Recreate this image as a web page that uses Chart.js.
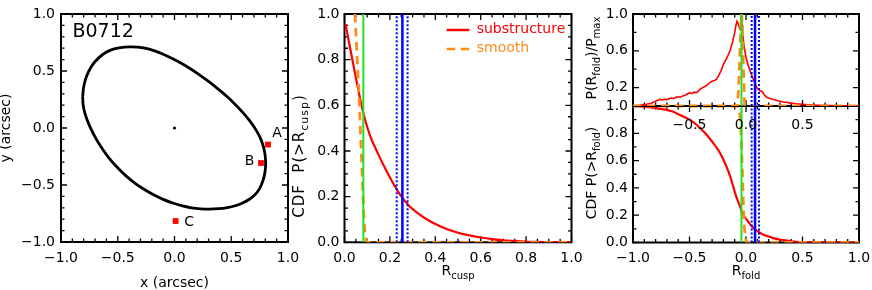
<!DOCTYPE html>
<html><head><meta charset="utf-8">
<script src="https://cdn.jsdelivr.net/npm/chart.js@4/dist/chart.umd.min.js"></script>
<style>
html,body{margin:0;padding:0;background:#fff;}
body{width:872px;height:290px;position:relative;overflow:hidden;}
canvas{position:absolute;top:0;}
</style></head><body>
<canvas id="c1" width="300" height="290" style="left:0px;width:300px;height:290px"></canvas>
<canvas id="c2" width="300" height="290" style="left:290px;width:300px;height:290px"></canvas>
<canvas id="c4" width="292" height="290" style="left:580px;width:292px;height:290px"></canvas>
<canvas id="c3" width="292" height="150" style="left:580px;width:292px;height:150px"></canvas>
<script>
// ---------------- DATA ----------------
// Panel 1: critical curve and image positions (arcsec)
const curveX = [-0.809,-0.802,-0.785,-0.757,-0.718,-0.668,-0.610,-0.545,-0.475,-0.400,-0.325,-0.250,-0.175,-0.100,-0.020,0.060,0.140,0.220,0.300,0.380,0.460,0.535,0.605,0.665,0.715,0.755,0.782,0.798,0.803,0.797,0.780,0.752,0.712,0.660,0.600,0.535,0.465,0.390,0.310,0.230,0.150,0.070,-0.010,-0.095,-0.180,-0.265,-0.350,-0.430,-0.505,-0.575,-0.635,-0.688,-0.732,-0.767,-0.792,-0.806,-0.809];
const curveY = [0.275,0.350,0.425,0.495,0.560,0.615,0.660,0.690,0.706,0.712,0.710,0.698,0.676,0.647,0.610,0.568,0.520,0.466,0.408,0.345,0.278,0.207,0.133,0.060,-0.012,-0.085,-0.160,-0.236,-0.312,-0.388,-0.460,-0.527,-0.582,-0.625,-0.658,-0.682,-0.698,-0.708,-0.712,-0.709,-0.700,-0.683,-0.660,-0.628,-0.588,-0.540,-0.483,-0.418,-0.345,-0.266,-0.184,-0.100,-0.016,0.064,0.140,0.210,0.275];
const lensX = [0.0];
const lensY = [0.0];
const imageNames = ['A','B','C'];
const imageX = [0.824, 0.762, 0.010];
const imageY = [-0.145, -0.307, -0.816];
const lensName = 'B0712';
const panel1Ticks = [-1.0,-0.5,0.0,0.5,1.0];

// Panel 2: CDF of R_cusp
const cuspX = [0.005,0.02,0.04,0.06,0.08,0.10,0.12,0.15,0.18,0.21,0.244,0.28,0.32,0.36,0.40,0.45,0.50,0.55,0.60,0.65,0.70,0.75,0.80,0.85,0.90,0.95,1.00];
const cuspSub = [0.955,0.875,0.772,0.672,0.578,0.505,0.448,0.383,0.322,0.266,0.21,0.165,0.130,0.102,0.08,0.058,0.042,0.030,0.021,0.014,0.009,0.006,0.003,0.0015,0.0008,0.0003,0.0];
const cuspSmoothX = [0.046,0.055,0.065,0.073,0.080,0.086,0.092,0.10,1.0];
const cuspSmooth = [1.0,0.82,0.62,0.42,0.24,0.10,0.02,0.0,0.0];
const cuspObserved = 0.083;      // green
const cuspMeasured = 0.255;      // blue solid
const cuspMeasuredErr = [0.23, 0.278]; // blue dotted
const cuspTicks = [0.0,0.2,0.4,0.6,0.8,1.0];

// Panel 3 top: normalized PDF of R_fold
const foldPdfX = [-1.00,-0.98,-0.96,-0.94,-0.92,-0.90,-0.88,-0.86,-0.84,-0.82,-0.80,-0.78,-0.76,-0.74,-0.72,-0.70,-0.68,-0.66,-0.64,-0.62,-0.60,-0.58,-0.56,-0.54,-0.52,-0.50,-0.48,-0.46,-0.44,-0.42,-0.40,-0.38,-0.36,-0.34,-0.32,-0.30,-0.28,-0.26,-0.24,-0.22,-0.20,-0.18,-0.16,-0.14,-0.12,-0.10,-0.09,-0.08,-0.07,-0.06,-0.05,-0.045,-0.04,-0.035,-0.03,-0.02,-0.01,0.00,0.02,0.04,0.06,0.08,0.10,0.12,0.14,0.16,0.18,0.20,0.22,0.24,0.26,0.28,0.30,0.32,0.34,0.36,0.38,0.40,0.42,0.44,0.46,0.48,0.50,0.55,0.60,0.65,0.70,0.75,0.80,0.85,0.90,0.95,1.00];
const foldPdf = [0.003,0.004,0.006,0.008,0.012,0.010,0.018,0.024,0.030,0.040,0.052,0.062,0.072,0.066,0.074,0.070,0.080,0.086,0.082,0.094,0.100,0.096,0.110,0.118,0.130,0.142,0.136,0.150,0.146,0.165,0.188,0.202,0.215,0.232,0.255,0.268,0.276,0.292,0.335,0.385,0.455,0.495,0.548,0.605,0.690,0.800,0.870,0.920,0.895,0.860,0.830,0.940,0.995,0.880,0.780,0.680,0.600,0.530,0.440,0.370,0.305,0.245,0.190,0.168,0.160,0.125,0.098,0.086,0.080,0.070,0.066,0.058,0.052,0.046,0.042,0.040,0.034,0.030,0.030,0.024,0.022,0.020,0.018,0.014,0.010,0.008,0.006,0.005,0.003,0.003,0.002,0.001,0.001];
const foldSmoothPdfX = [-1.0,-0.075,-0.065,-0.055,-0.045,-0.038,-0.03,-0.022,-0.012,1.0];
const foldSmoothPdf = [0.0,0.0,0.2,0.55,0.9,1.0,0.75,0.4,0.0,0.0];

// Panel 3 bottom: CDF of R_fold
const foldX = [-1.0,-0.9,-0.8,-0.73,-0.65,-0.584,-0.5,-0.436,-0.36,-0.29,-0.24,-0.2,-0.17,-0.14,-0.12,-0.097,-0.075,-0.053,-0.033,-0.015,0.006,0.035,0.065,0.095,0.124,0.16,0.21,0.25,0.30,0.35,0.40,0.45,0.50,0.60,0.70,1.0];
const foldSub = [1.0,0.995,0.985,0.976,0.96,0.934,0.90,0.861,0.80,0.728,0.67,0.606,0.55,0.484,0.43,0.363,0.31,0.265,0.217,0.19,0.168,0.135,0.107,0.087,0.071,0.055,0.042,0.030,0.022,0.015,0.009,0.005,0.003,0.001,0.0,0.0];
const foldSmoothX = [-1.0,-0.07,-0.058,-0.048,-0.04,-0.032,-0.024,-0.016,-0.006,0.005,1.0];
const foldSmooth = [1.0,1.0,0.97,0.88,0.72,0.52,0.30,0.13,0.04,0.0,0.0];
const foldObserved = -0.04;
const foldMeasured = 0.08;
const foldMeasuredErr = [0.05, 0.115];
const foldXTicks = [-1.0,-0.5,0.0,0.5,1.0];
const foldTopXTicks = [-0.5,0.0,0.5];
const foldPdfTicks = [0.2,0.6,1.0];
const foldCdfTicks = [0.0,0.2,0.4,0.6,0.8,1.0];

// ---------------- STYLE ----------------
const FONT = "'DejaVu Sans', sans-serif";
const RED = '#ff0000', ORANGE = '#ff8c1a', GREEN = '#22e022', BLUE = '#0000ff';

function pts(xs, ys){ return xs.map((x,i)=>({x:x, y:ys[i]})); }
function vline(x, lo, hi){ return [{x:x,y:lo},{x:x,y:hi}]; }
function range(a,b,s){ const r=[]; const n=Math.round((b-a)/s); for(let i=0;i<=n;i++) r.push(Math.round((a+i*s)*1000)/1000); return r; }
function fmt(v){ const s=Math.abs(v).toFixed(1); return v<-1e-9 ? '\u2212'+s : s; }

function axis(kind, size, ticks, pad, min, max){
  return {
    type:'linear', min:min, max:max,
    grid:{display:false, drawTicks:false}, border:{display:false},
    ticks:{font:{family:FONT,size:14}, color:'#000', padding:pad, autoSkip:false, maxRotation:0, minRotation:0,
           callback:(v)=>fmt(v), display: ticks.length>0},
    afterBuildTicks:(s)=>{ s.ticks = ticks.map(v=>({value:v})); },
    afterFit:(s)=>{ if(kind==='x') s.height=size; else s.width=size;
                    s.paddingLeft=0; s.paddingRight=0; s.paddingTop=0; s.paddingBottom=0; }
  };
}

function drawRich(ctx, t){
  const size=t.size||14, sub=t.sub||10, drop=t.drop||4;
  ctx.save();
  ctx.translate(t.x, t.y);
  if(t.rot) ctx.rotate(-Math.PI/2);
  ctx.fillStyle=t.color||'#000';
  ctx.textBaseline='alphabetic'; ctx.textAlign='left';
  if(t.spacing) ctx.letterSpacing=t.spacing+'px';
  const widths=t.parts.map(p=>{ ctx.font=(p[1]?sub:size)+'px '+FONT; return ctx.measureText(p[0]).width; });
  const total=widths.reduce((a,b)=>a+b,0);
  let cx = t.align==='left' ? 0 : -total/2;
  t.parts.forEach((p,i)=>{ ctx.font=(p[1]?sub:size)+'px '+FONT; ctx.fillText(p[0], cx, p[1]?drop:0); cx+=widths[i]; });
  ctx.restore();
}

function drawTicks(chart, cfg){
  const ctx=chart.ctx, a=chart.chartArea, xs=chart.scales.x, ys=chart.scales.y;
  ctx.save();
  ctx.setLineDash([]);
  ctx.strokeStyle='#000000'; ctx.lineWidth=1.3;
  const L=a.left, R=a.right, T=a.top, B=a.bottom;
  ctx.beginPath();
  const tx=(vals,len)=>{ for(const v of vals){ const p=xs.getPixelForValue(v);
    ctx.moveTo(p,B); ctx.lineTo(p,B-len); ctx.moveTo(p,T); ctx.lineTo(p,T+len); } };
  const ty=(vals,len)=>{ for(const v of vals){ const p=ys.getPixelForValue(v);
    ctx.moveTo(L,p); ctx.lineTo(L+len,p); ctx.moveTo(R,p); ctx.lineTo(R-len,p); } };
  tx(cfg.xMinor,3.5); ty(cfg.yMinor,3.5); tx(cfg.xMajor,6); ty(cfg.yMajor,6);
  ctx.stroke();
  ctx.lineWidth=2;
  ctx.strokeRect(L, T, R-L, B-T);
  ctx.restore();
}

function framePlugin(cfg){
  return {
    id:'frame',
    beforeDatasetsDraw(chart){ drawTicks(chart,cfg); },
    afterDraw(chart){
      const ctx=chart.ctx;
      (cfg.texts||[]).forEach(t=>drawRich(ctx,t));
      if(cfg.legend){
        cfg.legend.forEach(l=>{
          ctx.save();
          ctx.strokeStyle=l.color; ctx.lineWidth=2.5; ctx.setLineDash(l.dash);
          ctx.beginPath(); ctx.moveTo(l.x0,l.ly); ctx.lineTo(l.x1,l.ly); ctx.stroke();
          ctx.restore();
          drawRich(ctx,{parts:[[l.label,0]], x:l.tx, y:l.ty, align:'left', color:l.color});
        });
      }
      if(cfg.pointLabels){
        const xs=chart.scales.x, ys=chart.scales.y;
        ctx.save(); ctx.fillStyle='#000'; ctx.font='14px '+FONT; ctx.textAlign='center'; ctx.textBaseline='middle';
        cfg.pointLabels.names.forEach((n,i)=>{
          const o=cfg.pointLabels.offsets[i];
          ctx.fillText(n, xs.getPixelForValue(cfg.pointLabels.x[i])+o[0], ys.getPixelForValue(cfg.pointLabels.y[i])+o[1]);
        });
        ctx.restore();
      }
    }
  };
}

function opts(padding, xAxis, yAxis){
  return {
    responsive:false, animation:false, devicePixelRatio:1, events:[],
    layout:{padding:padding},
    plugins:{legend:{display:false}, tooltip:{enabled:false}},
    scales:{x:xAxis, y:yAxis}
  };
}
function lineDs(data, color, width, extra){
  return Object.assign({data:data, showLine:true, borderColor:color, backgroundColor:color, borderWidth:width, pointRadius:0, tension:0}, extra||{});
}

// ---------------- PANEL 1 ----------------
new Chart(document.getElementById('c1'), {
  type:'scatter',
  data:{datasets:[
    {data:pts(imageX,imageY), pointStyle:'rect', pointRadius:4.1, backgroundColor:RED, borderColor:RED, borderWidth:0, order:0},
    {data:pts(lensX,lensY), pointRadius:1.6, backgroundColor:'#000', borderWidth:0, order:1},
    lineDs(pts(curveX,curveY), '#000', 2.8, {tension:0.2, order:2})
  ]},
  options:opts({top:14,right:12,left:0,bottom:0},
    axis('x',48,panel1Ticks,8,-1,1), axis('y',61,panel1Ticks,6,-1,1)),
  plugins:[framePlugin({
    xMajor:panel1Ticks, xMinor:range(-1,1,0.1), yMajor:panel1Ticks, yMinor:range(-1,1,0.1),
    texts:[
      {parts:[['y (arcsec)',0]], x:10, y:128, rot:true},
      {parts:[['x (arcsec)',0]], x:174.5, y:287},
      {parts:[[lensName,0]], x:72.5, y:37, size:19, align:'left'}
    ],
    pointLabels:{names:imageNames, x:imageX, y:imageY, offsets:[[9,-11.5],[-11.5,-2],[13.5,1.5]]}
  })]
});

// ---------------- PANEL 2 ----------------
new Chart(document.getElementById('c2'), {
  type:'scatter',
  data:{datasets:[
    lineDs(vline(cuspObserved,0,1), GREEN, 2, {order:0}),
    lineDs(vline(cuspMeasured,0,1), BLUE, 2.5, {order:1}),
    lineDs(vline(cuspMeasuredErr[0],0,1), BLUE, 2, {borderDash:[2,2], order:2}),
    lineDs(vline(cuspMeasuredErr[1],0,1), BLUE, 2, {borderDash:[2,2], order:3}),
    lineDs(pts(cuspSmoothX,cuspSmooth), ORANGE, 2.8, {borderDash:[8.5,5.5], order:4}),
    lineDs(pts(cuspX,cuspSub), RED, 2.2, {tension:0.2, order:5})
  ]},
  options:opts({top:14,right:18.5,left:0,bottom:0},
    axis('x',47.7,cuspTicks,8,0,1), axis('y',54.5,cuspTicks,5,0,1)),
  plugins:[framePlugin({
    xMajor:cuspTicks, xMinor:range(0,1,0.05), yMajor:cuspTicks, yMinor:range(0,1,0.05),
    texts:[
      {parts:[['CDF  P(>R',0],['cusp',1],[')',0]], x:14, y:156, rot:true, size:15, sub:11, drop:4, spacing:1},
      {parts:[['R',0],['cusp',1]], x:168, y:275}
    ],
    legend:[
      {label:'substructure', color:RED, dash:[], x0:156.7, x1:179.3, ly:30, tx:186.7, ty:33.3},
      {label:'smooth', color:ORANGE, dash:[8.5,5.5], x0:156.7, x1:179.3, ly:49, tx:186.7, ty:51.7}
    ]
  })]
});

// ---------------- PANEL 3 TOP ----------------
new Chart(document.getElementById('c3'), {
  type:'scatter',
  data:{datasets:[
    lineDs(vline(foldObserved,0,1), GREEN, 2, {order:0}),
    lineDs(vline(foldMeasured,0,1), BLUE, 2.5, {order:1}),
    lineDs(vline(foldMeasuredErr[0],0,1), BLUE, 2, {borderDash:[2,2], order:2}),
    lineDs(vline(foldMeasuredErr[1],0,1), BLUE, 2, {borderDash:[2,2], order:3}),
    lineDs(pts(foldSmoothPdfX,foldSmoothPdf), ORANGE, 2.8, {borderDash:[8.5,5.5], order:4}),
    lineDs(pts(foldPdfX,foldPdf), RED, 1.6, {order:5})
  ]},
  options:opts({top:14,right:13,left:0,bottom:0},
    axis('x',44,foldTopXTicks,10.6,-1,1), axis('y',53,foldPdfTicks,5,0,1)),
  plugins:[framePlugin({
    xMajor:foldXTicks, xMinor:range(-1,1,0.1), yMajor:foldPdfTicks, yMinor:[0.4,0.8],
    texts:[
      {parts:[['P(R',0],['fold',1],[')/P',0],['max',1]], x:16, y:58, rot:true}
    ]
  })]
});

// ---------------- PANEL 3 BOTTOM ----------------
new Chart(document.getElementById('c4'), {
  type:'scatter',
  data:{datasets:[
    lineDs(vline(foldObserved,0,1), GREEN, 2, {order:0}),
    lineDs(vline(foldMeasured,0,1), BLUE, 2.5, {order:1}),
    lineDs(vline(foldMeasuredErr[0],0,1), BLUE, 2, {borderDash:[2,2], order:2}),
    lineDs(vline(foldMeasuredErr[1],0,1), BLUE, 2, {borderDash:[2,2], order:3}),
    lineDs(pts(foldSmoothX,foldSmooth), ORANGE, 2.8, {borderDash:[8.5,5.5], order:4}),
    lineDs(pts(foldX,foldSub), RED, 2.2, {tension:0.3, order:5})
  ]},
  options:opts({top:106,right:13,left:0,bottom:0},
    axis('x',47.5,foldXTicks,7.6,-1,1), axis('y',53,foldCdfTicks,5,0,1)),
  plugins:[framePlugin({
    xMajor:foldXTicks, xMinor:range(-1,1,0.1), yMajor:foldCdfTicks, yMinor:range(0,1,0.1),
    texts:[
      {parts:[['CDF P(>R',0],['fold',1],[')',0]], x:16, y:173, rot:true},
      {parts:[['R',0],['fold',1]], x:166, y:275}
    ]
  })]
});
</script>
</body></html>
